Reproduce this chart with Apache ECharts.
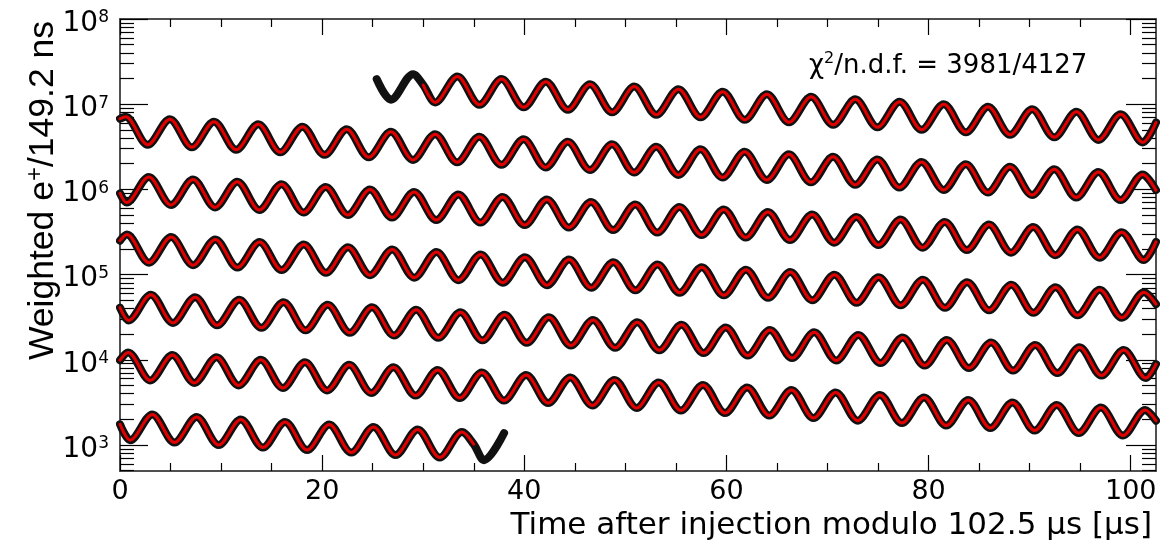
<!DOCTYPE html>
<html>
<head>
<meta charset="utf-8">
<script src="https://cdn.jsdelivr.net/npm/echarts@6/dist/echarts.min.js"></script>
<style>
html,body{margin:0;padding:0;background:#ffffff;}
#chart{width:1173px;height:553px;}
</style>
</head>
<body>
<div id="chart"></div>
<script>
// ---- data: extrema / boundary points, [time (us), weighted counts] ----
const row1 = [[25.4,1.97e7],[26.81,1.13e7],[29.0,2.25e7],[30.0,1.68e7],[31.19,1.05e7],[33.38,2.11e7],[35.56,9.85e6],[37.75,1.97e7],[39.94,9.21e6],[42.13,1.84e7],[44.31,8.60e6],[46.5,1.72e7],[48.69,8.04e6],[50.88,1.61e7],[53.06,7.51e6],[55.25,1.50e7],[57.44,7.02e6],[59.63,1.40e7],[61.81,6.56e6],[64.0,1.31e7],[66.19,6.13e6],[68.38,1.22e7],[70.56,5.72e6],[72.75,1.14e7],[74.94,5.35e6],[77.13,1.07e7],[79.31,5.00e6],[81.5,9.98e6],[83.69,4.67e6],[85.88,9.33e6],[88.06,4.37e6],[90.25,8.72e6],[92.44,4.08e6],[94.63,8.14e6],[96.81,3.81e6],[99.0,7.61e6],[101.19,3.56e6],[102.5,6.1e6]];
const row2 = [[0,6.75e6],[0.55,7.13e6],[2.74,3.34e6],[4.93,6.67e6],[7.11,3.12e6],[9.3,6.23e6],[11.49,2.92e6],[13.68,5.82e6],[15.86,2.72e6],[18.05,5.44e6],[20.24,2.55e6],[22.43,5.08e6],[24.61,2.38e6],[26.8,4.75e6],[28.99,2.22e6],[31.18,4.44e6],[33.36,2.08e6],[35.55,4.15e6],[37.74,1.94e6],[39.93,3.87e6],[42.11,1.81e6],[44.3,3.62e6],[46.49,1.69e6],[48.68,3.38e6],[50.86,1.58e6],[53.05,3.16e6],[55.24,1.48e6],[57.43,2.95e6],[59.61,1.38e6],[61.8,2.76e6],[63.99,1.29e6],[66.18,2.58e6],[68.36,1.21e6],[70.55,2.41e6],[72.74,1.13e6],[74.93,2.25e6],[77.11,1.05e6],[79.3,2.10e6],[81.49,9.85e5],[83.68,1.97e6],[85.86,9.20e5],[88.05,1.84e6],[90.24,8.60e5],[92.43,1.72e6],[94.61,8.03e5],[96.8,1.60e6],[98.99,7.51e5],[101.18,1.50e6],[102.5,9.8e5]];
const row3 = [[0,9.0e5],[0.66,7.0e5],[2.85,1.40e6],[5.04,6.57e5],[7.23,1.31e6],[9.41,6.14e5],[11.6,1.23e6],[13.79,5.73e5],[15.98,1.15e6],[18.16,5.36e5],[20.35,1.07e6],[22.54,5.01e5],[24.73,9.99e5],[26.91,4.68e5],[29.1,9.34e5],[31.29,4.37e5],[33.48,8.73e5],[35.66,4.08e5],[37.85,8.15e5],[40.04,3.82e5],[42.23,7.62e5],[44.41,3.57e5],[46.6,7.12e5],[48.79,3.33e5],[50.98,6.65e5],[53.16,3.11e5],[55.35,6.22e5],[57.54,2.91e5],[59.73,5.81e5],[61.91,2.72e5],[64.1,5.43e5],[66.29,2.54e5],[68.48,5.07e5],[70.66,2.37e5],[72.85,4.74e5],[75.04,2.22e5],[77.23,4.43e5],[79.41,2.07e5],[81.6,4.14e5],[83.79,1.94e5],[85.98,3.87e5],[88.16,1.81e5],[90.35,3.61e5],[92.54,1.69e5],[94.73,3.38e5],[96.91,1.58e5],[99.1,3.15e5],[101.29,1.48e5],[102.5,2.42e5]];
const row4 = [[0,2.5e5],[0.68,2.95e5],[2.87,1.38e5],[5.06,2.76e5],[7.24,1.29e5],[9.43,2.58e5],[11.62,1.21e5],[13.81,2.41e5],[15.99,1.13e5],[18.18,2.25e5],[20.37,1.05e5],[22.56,2.10e5],[24.74,9.85e4],[26.93,1.97e5],[29.12,9.20e4],[31.31,1.84e5],[33.49,8.60e4],[35.68,1.72e5],[37.87,8.04e4],[40.06,1.60e5],[42.24,7.51e4],[44.43,1.50e5],[46.62,7.02e4],[48.81,1.40e5],[50.99,6.55e4],[53.18,1.31e5],[55.37,6.12e4],[57.56,1.22e5],[59.74,5.72e4],[61.93,1.14e5],[64.12,5.35e4],[66.31,1.07e5],[68.49,5.00e4],[70.68,9.98e4],[72.87,4.67e4],[75.06,9.32e4],[77.24,4.36e4],[79.43,8.71e4],[81.62,4.08e4],[83.81,8.14e4],[85.99,3.81e4],[88.18,7.61e4],[90.37,3.56e4],[92.56,7.11e4],[94.74,3.33e4],[96.93,6.64e4],[99.12,3.11e4],[101.31,6.20e4],[102.5,4.5e4]];
const row5 = [[0,4.1e4],[0.86,2.9e4],[3.05,5.80e4],[5.24,2.71e4],[7.43,5.42e4],[9.61,2.54e4],[11.8,5.06e4],[13.99,2.37e4],[16.18,4.73e4],[18.36,2.22e4],[20.55,4.42e4],[22.74,2.07e4],[24.93,4.13e4],[27.11,1.93e4],[29.3,3.86e4],[31.49,1.81e4],[33.68,3.61e4],[35.86,1.69e4],[38.05,3.37e4],[40.24,1.58e4],[42.43,3.15e4],[44.61,1.47e4],[46.8,2.94e4],[48.99,1.38e4],[51.18,2.75e4],[53.36,1.29e4],[55.55,2.57e4],[57.74,1.20e4],[59.93,2.40e4],[62.11,1.12e4],[64.3,2.24e4],[66.49,1.05e4],[68.68,2.10e4],[70.86,9.81e3],[73.05,1.96e4],[75.24,9.17e3],[77.43,1.83e4],[79.61,8.57e3],[81.8,1.71e4],[83.99,8.00e3],[86.18,1.60e4],[88.36,7.48e3],[90.55,1.49e4],[92.74,6.99e3],[94.93,1.40e4],[97.11,6.53e3],[99.3,1.30e4],[101.49,6.10e3],[102.5,8.9e3]];
const row6 = [[0,9.9e3],[0.8,1.22e4],[2.99,5.73e3],[5.18,1.14e4],[7.36,5.35e3],[9.55,1.07e4],[11.74,5.00e3],[13.93,9.99e3],[16.11,4.67e3],[18.3,9.33e3],[20.49,4.37e3],[22.68,8.72e3],[24.86,4.08e3],[27.05,8.15e3],[29.24,3.81e3],[31.43,7.61e3],[33.61,3.56e3],[35.8,7.11e3],[37.99,3.33e3],[40.18,6.65e3],[42.36,3.11e3],[44.55,6.21e3],[46.74,2.91e3],[48.93,5.80e3],[51.11,2.72e3],[53.3,5.42e3],[55.49,2.54e3],[57.68,5.07e3],[59.86,2.37e3],[62.05,4.73e3],[64.24,2.22e3],[66.43,4.42e3],[68.61,2.07e3],[70.8,4.13e3],[72.99,1.93e3],[75.18,3.86e3],[77.36,1.81e3],[79.55,3.61e3],[81.74,1.69e3],[83.93,3.37e3],[86.11,1.58e3],[88.3,3.15e3],[90.49,1.48e3],[92.68,2.95e3],[94.86,1.38e3],[97.05,2.75e3],[99.24,1.29e3],[101.43,2.57e3],[102.5,1.93e3]];
const row7 = [[0,1.75e3],[1.01,1.14e3],[3.2,2.28e3],[5.39,1.07e3],[7.58,2.13e3],[9.76,998],[11.95,1.99e3],[14.14,933],[16.33,1.86e3],[18.51,871],[20.7,1.74e3],[22.89,814],[25.08,1.63e3],[27.26,761],[29.45,1.52e3],[31.64,711],[33.83,1.42e3],[35.0,1.02e3],[36.01,664],[38.0,1.38e3]];

const fitStart = 30.0;   // fit begins (top row)
const fitEnd = 35.0;     // fit ends (bottom row)

const xRange = [0, 102.5];
const yRange = [495, 1e8];
const xMajorTicks = [0, 20, 40, 60, 80, 100];
const xMinorTicks = [5, 10, 15, 25, 30, 35, 45, 50, 55, 65, 70, 75, 85, 90, 95];
const yMajorTicks = [1e3, 1e4, 1e5, 1e6, 1e7, 1e8];
const yMinorMantissas = [2, 3, 4, 5, 6, 7, 8, 9];

const xTitle = 'Time after injection modulo 102.5 μs [μs]';
const yTitleParts = ['Weighted e', '+', '/149.2 ns'];
const chi2Parts = ['χ', '2', '/n.d.f. = 3981/4127'];

// ---- build ----
const yMinorTicks = [];
for (let e = 2; e <= 7; e++) {
  for (const m of yMinorMantissas) {
    const v = m * Math.pow(10, e);
    if (v >= yRange[0] && v <= yRange[1]) yMinorTicks.push(v);
  }
}

const NUMFONT = 'DejaVu Sans';
const FRAME = {color: '#444', width: 1.5};
const TICK = {color: '#000', width: 1.2};

function makeX(position, ticks, len, labels) {
  const ax = {
    type: 'value', position: position, min: xRange[0], max: xRange[1],
    axisLine: {show: true, onZero: false, lineStyle: FRAME},
    axisTick: {show: true, inside: true, length: len, customValues: ticks, lineStyle: TICK},
    axisLabel: {show: false},
    splitLine: {show: false}, minorTick: {show: false}
  };
  if (labels) {
    ax.axisLabel = {show: true, customValues: xMajorTicks, margin: 7,
      fontFamily: NUMFONT, fontSize: 27, color: '#000',
      formatter: v => String(Math.round(v))};
  }
  return ax;
}

function makeY(position, ticks, len, labels) {
  const ax = {
    type: 'log', logBase: 10, position: position, min: yRange[0], max: yRange[1],
    axisLine: {show: true, onZero: false, lineStyle: FRAME},
    axisTick: {show: true, inside: true, length: len, customValues: ticks, lineStyle: TICK},
    axisLabel: {show: false},
    splitLine: {show: false}, minorTick: {show: false}
  };
  if (labels) {
    ax.axisLabel = {show: true, customValues: yMajorTicks, margin: 11,
      padding: [9, 0, 0, 0],
      formatter: v => '{b|10}{s|' + Math.round(Math.log10(v)) + '}',
      rich: {
        b: {fontFamily: NUMFONT, fontSize: 28, lineHeight: 28, color: '#000', verticalAlign: 'bottom'},
        s: {fontFamily: NUMFONT, fontSize: 17, lineHeight: 14, color: '#000', verticalAlign: 'top'}
      }};
  }
  return ax;
}

const rows = [row1, row2, row3, row4, row5, row6, row7];
const fitRows = rows.map((r, i) => {
  if (i === 0) return r.filter(p => p[0] >= fitStart);
  if (i === rows.length - 1) return r.filter(p => p[0] <= fitEnd);
  return r;
});

function lineSeries(data, color, width, z) {
  return {
    type: 'line', data: data, xAxisIndex: 0, yAxisIndex: 0,
    smooth: 0.33, showSymbol: false, symbol: 'none', silent: true, clip: true,
    lineStyle: {color: color, width: width, cap: 'round', join: 'round'},
    z: z, animation: false
  };
}

const series = [];
rows.forEach(r => series.push(lineSeries(r, '#111', 8, 2)));
fitRows.forEach(r => series.push(lineSeries(r, '#e00000', 3, 3)));

const chart = echarts.init(document.getElementById('chart'), null, {renderer: 'canvas'});
chart.setOption({
  animation: false,
  backgroundColor: '#ffffff',
  grid: {left: 120, right: 17, top: 19, bottom: 82, containLabel: false, outerBoundsMode: 'none'},
  xAxis: [
    makeX('bottom', xMajorTicks, 16, true),
    makeX('bottom', xMinorTicks, 8, false),
    makeX('top', xMajorTicks, 16, false),
    makeX('top', xMinorTicks, 8, false)
  ],
  yAxis: [
    makeY('left', yMajorTicks, 28, true),
    makeY('left', yMinorTicks, 14, false),
    makeY('right', yMajorTicks, 30, false),
    makeY('right', yMinorTicks, 14, false)
  ],
  series: series,
  graphic: [
    {type: 'text', x: 1152, y: 526, silent: true, style: {
      text: xTitle, font: '31px "DejaVu Sans"', fill: '#000',
      textAlign: 'right', textVerticalAlign: 'middle'}},
    {type: 'text', x: 42, y: 21, rotation: Math.PI / 2, silent: true, style: {
      text: '{a|' + yTitleParts[0] + '}{s|' + yTitleParts[1] + '}{a|' + yTitleParts[2] + '}',
      rich: {
        a: {fontFamily: 'Liberation Sans', fontSize: 35.5, lineHeight: 38, fill: '#000', verticalAlign: 'bottom'},
        s: {fontFamily: 'Liberation Sans', fontSize: 24, lineHeight: 22, fill: '#000', verticalAlign: 'top'}
      },
      fill: '#000', textAlign: 'right', textVerticalAlign: 'middle'}},
    {type: 'text', x: 809, y: 65, silent: true, style: {
      text: '{a|' + chi2Parts[0] + '}{s|' + chi2Parts[1] + '}{a|' + chi2Parts[2] + '}',
      rich: {
        a: {fontFamily: NUMFONT, fontSize: 26, lineHeight: 28, fill: '#000', verticalAlign: 'bottom'},
        s: {fontFamily: NUMFONT, fontSize: 16, lineHeight: 16, fill: '#000', verticalAlign: 'top'}
      },
      fill: '#000', textAlign: 'left', textVerticalAlign: 'middle'}}
  ]
});
</script>
</body>
</html>
